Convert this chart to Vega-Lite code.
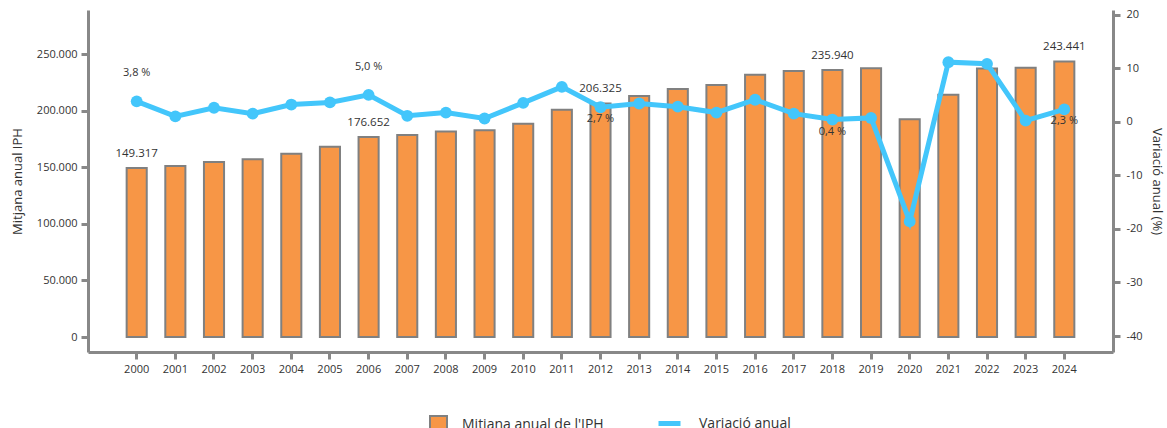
{
  "$schema": "https://vega.github.io/schema/vega-lite/v6.json",
  "width": 1025,
  "height": 342,
  "autosize": {"type": "none"},
  "padding": {"left": 88, "top": 10, "right": 54, "bottom": 76},
  "config": {
    "locale": {"number": {"decimal": ",", "thousands": ".", "grouping": [3], "currency": ["", " €"], "minus": "-"}},
    "font": "Open Sans",
    "view": {"stroke": null},
    "axis": {
      "domainColor": "#888888", "domainWidth": 3,
      "tickColor": "#888888", "tickWidth": 3, "tickSize": 7,
      "labelColor": "#333333", "labelFontSize": 11, "labelFont": "Open Sans",
      "titleColor": "#333333", "titleFontSize": 13, "titleFontWeight": "normal", "titleFont": "Open Sans",
      "grid": false
    },
    "legend": {"labelFont": "Open Sans", "labelFontSize": 14, "labelColor": "#333333", "padding": 0}
  },
  "data": {
    "values": [
      {"year": 2000, "iph": 149317, "pct": 3.8},
      {"year": 2001, "iph": 151000, "pct": 1.0},
      {"year": 2002, "iph": 154600, "pct": 2.6},
      {"year": 2003, "iph": 157000, "pct": 1.5},
      {"year": 2004, "iph": 161800, "pct": 3.2},
      {"year": 2005, "iph": 168000, "pct": 3.6},
      {"year": 2006, "iph": 176652, "pct": 5.0},
      {"year": 2007, "iph": 178400, "pct": 1.1},
      {"year": 2008, "iph": 181600, "pct": 1.7},
      {"year": 2009, "iph": 182700, "pct": 0.6},
      {"year": 2010, "iph": 188400, "pct": 3.5},
      {"year": 2011, "iph": 200700, "pct": 6.5},
      {"year": 2012, "iph": 206325, "pct": 2.7},
      {"year": 2013, "iph": 212900, "pct": 3.4},
      {"year": 2014, "iph": 219000, "pct": 2.8},
      {"year": 2015, "iph": 222600, "pct": 1.7},
      {"year": 2016, "iph": 231700, "pct": 4.1},
      {"year": 2017, "iph": 235000, "pct": 1.5},
      {"year": 2018, "iph": 235940, "pct": 0.4},
      {"year": 2019, "iph": 237400, "pct": 0.7},
      {"year": 2020, "iph": 192300, "pct": -18.6},
      {"year": 2021, "iph": 214000, "pct": 11.1},
      {"year": 2022, "iph": 237300, "pct": 10.8},
      {"year": 2023, "iph": 237800, "pct": 0.2},
      {"year": 2024, "iph": 243441, "pct": 2.3}
    ]
  },
  "encoding": {
    "x": {
      "field": "year", "type": "ordinal",
      "scale": {"paddingInner": 0.48, "paddingOuter": 1.02},
      "axis": {"title": null, "labelAngle": 0, "labelPadding": 4}
    }
  },
  "layer": [
    {
      "layer": [
        {
          "mark": {"type": "bar", "stroke": "#808080", "strokeWidth": 2},
          "encoding": {
            "y": {
              "field": "iph", "type": "quantitative",
              "scale": {"domain": [-13250, 288870], "nice": false, "zero": false},
              "axis": {"title": "Mitjana anual IPH", "values": [0, 50000, 100000, 150000, 200000, 250000], "format": ",.0f", "labelPadding": 4, "titlePadding": 12}
            },
            "y2": {"datum": 0},
            "fill": {
              "datum": "Mitjana anual de l'IPH", "type": "nominal",
              "scale": {"range": ["#f79646"]},
              "legend": {
                "title": null, "orient": "none", "legendX": 341, "legendY": 405,
                "symbolType": "square", "symbolSize": 289, "labelOffset": 14,
                "symbolStrokeColor": "#808080", "symbolStrokeWidth": 2,
                "encoding": {"symbols": {"update": {"stroke": {"value": "#808080"}, "strokeWidth": {"value": 2}}}}
              }
            }
          }
        },
        {
          "transform": [{"filter": "(datum.year - 2000) % 6 == 0"}],
          "mark": {"type": "text", "dy": -14, "fontSize": 11.5, "color": "#333333", "font": "Open Sans"},
          "encoding": {
            "y": {"field": "iph", "type": "quantitative"},
            "text": {"field": "iph", "type": "quantitative", "format": ",.0f"}
          }
        }
      ]
    },
    {
      "layer": [
        {
          "mark": {"type": "line", "strokeWidth": 5},
          "encoding": {
            "y": {
              "field": "pct", "type": "quantitative",
              "scale": {"domain": [-42.97, 20.84], "nice": false, "zero": false},
              "axis": {"orient": "right", "title": "Variació anual (%)", "values": [-40, -30, -20, -10, 0, 10, 20], "format": "d", "labelPadding": 6, "titlePadding": 7}
            },
            "stroke": {
              "datum": "Variació anual", "type": "nominal",
              "scale": {"range": ["#43c6fb"]},
              "legend": {
                "title": null, "orient": "none", "legendX": 568, "legendY": 400,
                "symbolType": "stroke", "symbolSize": 484, "symbolStrokeWidth": 5, "labelOffset": 16
              }
            }
          }
        },
        {
          "mark": {"type": "point", "filled": true, "size": 140, "color": "#43c6fb", "opacity": 1},
          "encoding": {"y": {"field": "pct", "type": "quantitative"}}
        },
        {
          "transform": [
            {"filter": "(datum.year - 2000) % 6 == 0 && datum.year <= 2006"},
            {"calculate": "replace(format(datum.pct, '.1f'), '.', ',') + ' %'", "as": "lbl"}
          ],
          "mark": {"type": "text", "dy": -28, "fontSize": 11, "color": "#333333", "font": "Open Sans"},
          "encoding": {
            "y": {"field": "pct", "type": "quantitative"},
            "text": {"field": "lbl", "type": "nominal"}
          }
        },
        {
          "transform": [
            {"filter": "(datum.year - 2000) % 6 == 0 && datum.year > 2006"},
            {"calculate": "replace(format(datum.pct, '.1f'), '.', ',') + ' %'", "as": "lbl"}
          ],
          "mark": {"type": "text", "dy": 12, "fontSize": 11, "color": "#333333", "font": "Open Sans"},
          "encoding": {
            "y": {"field": "pct", "type": "quantitative"},
            "text": {"field": "lbl", "type": "nominal"}
          }
        }
      ]
    }
  ],
  "resolve": {"scale": {"y": "independent", "fill": "independent", "stroke": "independent"}}
}
